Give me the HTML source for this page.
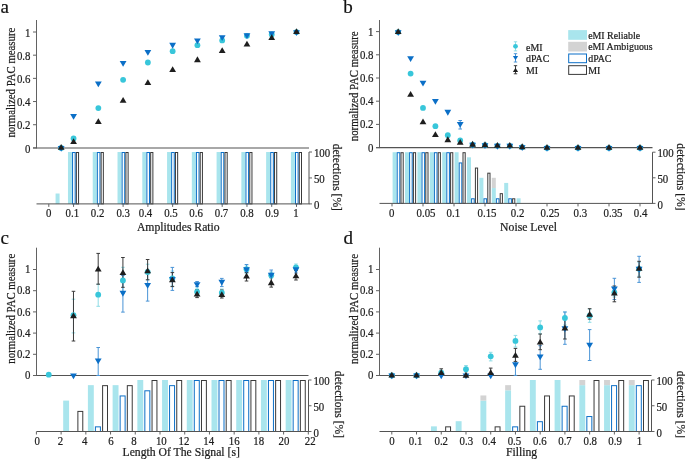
<!DOCTYPE html>
<html><head><meta charset="utf-8"><style>
html,body{margin:0;padding:0;background:#fff;}
svg{display:block;will-change:transform;}
text{stroke:#222;stroke-width:0.22px;paint-order:stroke;}
</style></head><body>
<svg width="685" height="459" viewBox="0 0 685 459">
<rect width="685" height="459" fill="#fff"/>
<line x1="36.50" y1="20.00" x2="36.50" y2="148.40" stroke="#626262" stroke-width="1"/>
<line x1="33.00" y1="147.90" x2="309.00" y2="147.90" stroke="#535353" stroke-width="1.05"/>
<line x1="33.00" y1="147.90" x2="36.50" y2="147.90" stroke="#626262" stroke-width="1"/>
<text x="0" y="0" font-size="11.8" text-anchor="end" fill="#1c1c1c" font-family='"Liberation Serif", serif' transform="translate(30.50 152.60) scale(0.92 1)">0</text>
<line x1="33.00" y1="124.72" x2="36.50" y2="124.72" stroke="#626262" stroke-width="1"/>
<text x="0" y="0" font-size="11.8" text-anchor="end" fill="#1c1c1c" font-family='"Liberation Serif", serif' transform="translate(30.50 129.42) scale(0.92 1)">0.2</text>
<line x1="33.00" y1="101.54" x2="36.50" y2="101.54" stroke="#626262" stroke-width="1"/>
<text x="0" y="0" font-size="11.8" text-anchor="end" fill="#1c1c1c" font-family='"Liberation Serif", serif' transform="translate(30.50 106.24) scale(0.92 1)">0.4</text>
<line x1="33.00" y1="78.36" x2="36.50" y2="78.36" stroke="#626262" stroke-width="1"/>
<text x="0" y="0" font-size="11.8" text-anchor="end" fill="#1c1c1c" font-family='"Liberation Serif", serif' transform="translate(30.50 83.06) scale(0.92 1)">0.6</text>
<line x1="33.00" y1="55.18" x2="36.50" y2="55.18" stroke="#626262" stroke-width="1"/>
<text x="0" y="0" font-size="11.8" text-anchor="end" fill="#1c1c1c" font-family='"Liberation Serif", serif' transform="translate(30.50 59.88) scale(0.92 1)">0.8</text>
<line x1="33.00" y1="32.00" x2="36.50" y2="32.00" stroke="#626262" stroke-width="1"/>
<text x="0" y="0" font-size="11.8" text-anchor="end" fill="#1c1c1c" font-family='"Liberation Serif", serif' transform="translate(30.50 36.70) scale(0.92 1)">1</text>
<text x="0" y="0" font-size="12.0" text-anchor="middle" fill="#1c1c1c" font-family='"Liberation Serif", serif' transform="translate(14.80 82.60) rotate(-90) scale(0.9 1)">normalized PAC measure</text>
<rect x="55.58" y="193.52" width="4.00" height="10.38" fill="#a9e5ed"/>
<rect x="67.97" y="152.00" width="4.00" height="51.90" fill="#a9e5ed"/>
<rect x="72.57" y="152.50" width="2.60" height="51.40" fill="white" stroke="#0b6fc7" stroke-width="1"/>
<rect x="76.37" y="152.50" width="2.20" height="51.40" fill="white" stroke="#3a3a3a" stroke-width="1"/>
<rect x="92.74" y="152.00" width="4.00" height="51.90" fill="#a9e5ed"/>
<rect x="97.34" y="152.50" width="2.60" height="51.40" fill="white" stroke="#0b6fc7" stroke-width="1"/>
<rect x="101.14" y="152.50" width="2.20" height="51.40" fill="white" stroke="#3a3a3a" stroke-width="1"/>
<rect x="117.51" y="152.00" width="4.00" height="51.90" fill="#a9e5ed"/>
<rect x="122.11" y="152.50" width="2.60" height="51.40" fill="white" stroke="#0b6fc7" stroke-width="1"/>
<rect x="125.91" y="152.50" width="2.20" height="51.40" fill="white" stroke="#3a3a3a" stroke-width="1"/>
<rect x="142.28" y="152.00" width="4.00" height="51.90" fill="#a9e5ed"/>
<rect x="146.88" y="152.50" width="2.60" height="51.40" fill="white" stroke="#0b6fc7" stroke-width="1"/>
<rect x="150.68" y="152.50" width="2.20" height="51.40" fill="white" stroke="#3a3a3a" stroke-width="1"/>
<rect x="167.05" y="152.00" width="4.00" height="51.90" fill="#a9e5ed"/>
<rect x="171.65" y="152.50" width="2.60" height="51.40" fill="white" stroke="#0b6fc7" stroke-width="1"/>
<rect x="175.45" y="152.50" width="2.20" height="51.40" fill="white" stroke="#3a3a3a" stroke-width="1"/>
<rect x="191.82" y="152.00" width="4.00" height="51.90" fill="#a9e5ed"/>
<rect x="196.42" y="152.50" width="2.60" height="51.40" fill="white" stroke="#0b6fc7" stroke-width="1"/>
<rect x="200.22" y="152.50" width="2.20" height="51.40" fill="white" stroke="#3a3a3a" stroke-width="1"/>
<rect x="216.59" y="152.00" width="4.00" height="51.90" fill="#a9e5ed"/>
<rect x="221.19" y="152.50" width="2.60" height="51.40" fill="white" stroke="#0b6fc7" stroke-width="1"/>
<rect x="224.99" y="152.50" width="2.20" height="51.40" fill="white" stroke="#3a3a3a" stroke-width="1"/>
<rect x="241.36" y="152.00" width="4.00" height="51.90" fill="#a9e5ed"/>
<rect x="245.96" y="152.50" width="2.60" height="51.40" fill="white" stroke="#0b6fc7" stroke-width="1"/>
<rect x="249.76" y="152.50" width="2.20" height="51.40" fill="white" stroke="#3a3a3a" stroke-width="1"/>
<rect x="266.13" y="152.00" width="4.00" height="51.90" fill="#a9e5ed"/>
<rect x="270.73" y="152.50" width="2.60" height="51.40" fill="white" stroke="#0b6fc7" stroke-width="1"/>
<rect x="274.53" y="152.50" width="2.20" height="51.40" fill="white" stroke="#3a3a3a" stroke-width="1"/>
<rect x="290.90" y="152.00" width="4.00" height="51.90" fill="#a9e5ed"/>
<rect x="295.50" y="152.50" width="2.60" height="51.40" fill="white" stroke="#0b6fc7" stroke-width="1"/>
<rect x="299.30" y="152.50" width="2.20" height="51.40" fill="white" stroke="#3a3a3a" stroke-width="1"/>
<line x1="36.50" y1="203.90" x2="309.50" y2="203.90" stroke="#535353" stroke-width="1.0"/>
<line x1="309.00" y1="152.00" x2="309.00" y2="203.90" stroke="#535353" stroke-width="1.0"/>
<line x1="309.00" y1="203.90" x2="312.00" y2="203.90" stroke="#626262" stroke-width="1"/>
<text x="0" y="0" font-size="11.8" text-anchor="start" fill="#1c1c1c" font-family='"Liberation Serif", serif' transform="translate(313.90 209.10) scale(0.92 1)">0</text>
<line x1="309.00" y1="177.95" x2="312.00" y2="177.95" stroke="#626262" stroke-width="1"/>
<text x="0" y="0" font-size="11.8" text-anchor="start" fill="#1c1c1c" font-family='"Liberation Serif", serif' transform="translate(313.90 183.15) scale(0.92 1)">50</text>
<line x1="309.00" y1="152.00" x2="312.00" y2="152.00" stroke="#626262" stroke-width="1"/>
<text x="0" y="0" font-size="11.8" text-anchor="start" fill="#1c1c1c" font-family='"Liberation Serif", serif' transform="translate(313.90 157.20) scale(0.92 1)">100</text>
<text x="333.30" y="177.30" font-size="11.6" text-anchor="middle" fill="#1c1c1c" font-family='"Liberation Serif", serif' transform="rotate(90 333.30 177.30)">detections [%]</text>
<line x1="48.80" y1="203.90" x2="48.80" y2="206.90" stroke="#626262" stroke-width="1"/>
<text x="0" y="0" font-size="11.8" text-anchor="middle" fill="#1c1c1c" font-family='"Liberation Serif", serif' transform="translate(48.80 217.20) scale(0.92 1)">0</text>
<line x1="73.57" y1="203.90" x2="73.57" y2="206.90" stroke="#626262" stroke-width="1"/>
<text x="0" y="0" font-size="11.8" text-anchor="middle" fill="#1c1c1c" font-family='"Liberation Serif", serif' transform="translate(72.37 217.20) scale(0.92 1)">0.1</text>
<line x1="98.34" y1="203.90" x2="98.34" y2="206.90" stroke="#626262" stroke-width="1"/>
<text x="0" y="0" font-size="11.8" text-anchor="middle" fill="#1c1c1c" font-family='"Liberation Serif", serif' transform="translate(97.64 217.20) scale(0.92 1)">0.2</text>
<line x1="123.11" y1="203.90" x2="123.11" y2="206.90" stroke="#626262" stroke-width="1"/>
<text x="0" y="0" font-size="11.8" text-anchor="middle" fill="#1c1c1c" font-family='"Liberation Serif", serif' transform="translate(123.21 217.20) scale(0.92 1)">0.3</text>
<line x1="147.88" y1="203.90" x2="147.88" y2="206.90" stroke="#626262" stroke-width="1"/>
<text x="0" y="0" font-size="11.8" text-anchor="middle" fill="#1c1c1c" font-family='"Liberation Serif", serif' transform="translate(145.48 217.20) scale(0.92 1)">0.4</text>
<line x1="172.65" y1="203.90" x2="172.65" y2="206.90" stroke="#626262" stroke-width="1"/>
<text x="0" y="0" font-size="11.8" text-anchor="middle" fill="#1c1c1c" font-family='"Liberation Serif", serif' transform="translate(170.95 217.20) scale(0.92 1)">0.5</text>
<line x1="197.42" y1="203.90" x2="197.42" y2="206.90" stroke="#626262" stroke-width="1"/>
<text x="0" y="0" font-size="11.8" text-anchor="middle" fill="#1c1c1c" font-family='"Liberation Serif", serif' transform="translate(196.02 217.20) scale(0.92 1)">0.6</text>
<line x1="222.19" y1="203.90" x2="222.19" y2="206.90" stroke="#626262" stroke-width="1"/>
<text x="0" y="0" font-size="11.8" text-anchor="middle" fill="#1c1c1c" font-family='"Liberation Serif", serif' transform="translate(221.49 217.20) scale(0.92 1)">0.7</text>
<line x1="246.96" y1="203.90" x2="246.96" y2="206.90" stroke="#626262" stroke-width="1"/>
<text x="0" y="0" font-size="11.8" text-anchor="middle" fill="#1c1c1c" font-family='"Liberation Serif", serif' transform="translate(246.96 217.20) scale(0.92 1)">0.8</text>
<line x1="271.73" y1="203.90" x2="271.73" y2="206.90" stroke="#626262" stroke-width="1"/>
<text x="0" y="0" font-size="11.8" text-anchor="middle" fill="#1c1c1c" font-family='"Liberation Serif", serif' transform="translate(272.03 217.20) scale(0.92 1)">0.9</text>
<line x1="296.50" y1="203.90" x2="296.50" y2="206.90" stroke="#626262" stroke-width="1"/>
<text x="0" y="0" font-size="11.8" text-anchor="middle" fill="#1c1c1c" font-family='"Liberation Serif", serif' transform="translate(295.90 217.20) scale(0.92 1)">1</text>
<text x="178.30" y="230.50" font-size="11.7" text-anchor="middle" fill="#1c1c1c" font-family='"Liberation Serif", serif'>Amplitudes Ratio</text>
<circle cx="61.18" cy="147.90" r="2.9" fill="#38c6da"/>
<circle cx="73.57" cy="138.40" r="2.9" fill="#38c6da"/>
<circle cx="98.34" cy="108.10" r="2.9" fill="#38c6da"/>
<circle cx="123.11" cy="79.80" r="2.9" fill="#38c6da"/>
<circle cx="147.88" cy="62.50" r="2.9" fill="#38c6da"/>
<circle cx="172.65" cy="51.20" r="2.9" fill="#38c6da"/>
<circle cx="197.42" cy="45.20" r="2.9" fill="#38c6da"/>
<circle cx="222.19" cy="40.40" r="2.9" fill="#38c6da"/>
<circle cx="246.96" cy="35.80" r="2.9" fill="#38c6da"/>
<circle cx="271.73" cy="34.50" r="2.9" fill="#38c6da"/>
<circle cx="296.50" cy="32.10" r="2.9" fill="#38c6da"/>
<path d="M57.78 145.97L64.58 145.97L61.18 151.77Z" fill="#0b6fc7"/>
<path d="M70.17 113.97L76.97 113.97L73.57 119.77Z" fill="#0b6fc7"/>
<path d="M94.94 81.57L101.74 81.57L98.34 87.37Z" fill="#0b6fc7"/>
<path d="M119.71 60.97L126.51 60.97L123.11 66.77Z" fill="#0b6fc7"/>
<path d="M144.48 49.97L151.28 49.97L147.88 55.77Z" fill="#0b6fc7"/>
<path d="M169.25 42.87L176.05 42.87L172.65 48.67Z" fill="#0b6fc7"/>
<path d="M194.02 38.57L200.82 38.57L197.42 44.37Z" fill="#0b6fc7"/>
<path d="M218.79 35.27L225.59 35.27L222.19 41.07Z" fill="#0b6fc7"/>
<path d="M243.56 33.27L250.36 33.27L246.96 39.07Z" fill="#0b6fc7"/>
<path d="M268.33 31.27L275.13 31.27L271.73 37.07Z" fill="#0b6fc7"/>
<path d="M293.10 30.17L299.90 30.17L296.50 35.97Z" fill="#0b6fc7"/>
<path d="M57.78 149.83L64.58 149.83L61.18 144.03Z" fill="#1e1e1e"/>
<path d="M70.17 143.93L76.97 143.93L73.57 138.13Z" fill="#1e1e1e"/>
<path d="M94.94 123.93L101.74 123.93L98.34 118.13Z" fill="#1e1e1e"/>
<path d="M119.71 102.83L126.51 102.83L123.11 97.03Z" fill="#1e1e1e"/>
<path d="M144.48 84.93L151.28 84.93L147.88 79.13Z" fill="#1e1e1e"/>
<path d="M169.25 72.03L176.05 72.03L172.65 66.23Z" fill="#1e1e1e"/>
<path d="M194.02 62.13L200.82 62.13L197.42 56.33Z" fill="#1e1e1e"/>
<path d="M218.79 52.93L225.59 52.93L222.19 47.13Z" fill="#1e1e1e"/>
<path d="M243.56 46.53L250.36 46.53L246.96 40.73Z" fill="#1e1e1e"/>
<path d="M268.33 40.03L275.13 40.03L271.73 34.23Z" fill="#1e1e1e"/>
<path d="M293.10 34.03L299.90 34.03L296.50 28.23Z" fill="#1e1e1e"/>
<text x="0.6" y="13.3" font-size="19" fill="#111" font-family='"Liberation Serif", serif'>a</text>
<line x1="379.50" y1="20.00" x2="379.50" y2="148.10" stroke="#626262" stroke-width="1"/>
<line x1="376.00" y1="147.60" x2="652.50" y2="147.60" stroke="#535353" stroke-width="1.05"/>
<line x1="376.00" y1="147.60" x2="379.50" y2="147.60" stroke="#626262" stroke-width="1"/>
<text x="0" y="0" font-size="11.8" text-anchor="end" fill="#1c1c1c" font-family='"Liberation Serif", serif' transform="translate(373.50 151.60) scale(0.92 1)">0</text>
<line x1="376.00" y1="124.40" x2="379.50" y2="124.40" stroke="#626262" stroke-width="1"/>
<text x="0" y="0" font-size="11.8" text-anchor="end" fill="#1c1c1c" font-family='"Liberation Serif", serif' transform="translate(373.50 128.40) scale(0.92 1)">0.2</text>
<line x1="376.00" y1="101.20" x2="379.50" y2="101.20" stroke="#626262" stroke-width="1"/>
<text x="0" y="0" font-size="11.8" text-anchor="end" fill="#1c1c1c" font-family='"Liberation Serif", serif' transform="translate(373.50 105.20) scale(0.92 1)">0.4</text>
<line x1="376.00" y1="78.00" x2="379.50" y2="78.00" stroke="#626262" stroke-width="1"/>
<text x="0" y="0" font-size="11.8" text-anchor="end" fill="#1c1c1c" font-family='"Liberation Serif", serif' transform="translate(373.50 82.00) scale(0.92 1)">0.6</text>
<line x1="376.00" y1="54.80" x2="379.50" y2="54.80" stroke="#626262" stroke-width="1"/>
<text x="0" y="0" font-size="11.8" text-anchor="end" fill="#1c1c1c" font-family='"Liberation Serif", serif' transform="translate(373.50 58.80) scale(0.92 1)">0.8</text>
<line x1="376.00" y1="31.60" x2="379.50" y2="31.60" stroke="#626262" stroke-width="1"/>
<text x="0" y="0" font-size="11.8" text-anchor="end" fill="#1c1c1c" font-family='"Liberation Serif", serif' transform="translate(373.50 35.60) scale(0.92 1)">1</text>
<text x="0" y="0" font-size="12.0" text-anchor="middle" fill="#1c1c1c" font-family='"Liberation Serif", serif' transform="translate(357.80 86.30) rotate(-90) scale(0.9 1)">normalized PAC measure</text>
<rect x="392.60" y="152.20" width="4.00" height="51.20" fill="#a9e5ed"/>
<rect x="397.20" y="152.70" width="2.60" height="50.70" fill="white" stroke="#0b6fc7" stroke-width="1"/>
<rect x="401.00" y="152.70" width="2.20" height="50.70" fill="white" stroke="#3a3a3a" stroke-width="1"/>
<rect x="405.00" y="152.20" width="4.00" height="51.20" fill="#a9e5ed"/>
<rect x="409.60" y="152.70" width="2.60" height="50.70" fill="white" stroke="#0b6fc7" stroke-width="1"/>
<rect x="413.40" y="152.70" width="2.20" height="50.70" fill="white" stroke="#3a3a3a" stroke-width="1"/>
<rect x="417.40" y="152.20" width="4.00" height="51.20" fill="#a9e5ed"/>
<rect x="422.00" y="152.70" width="2.60" height="50.70" fill="white" stroke="#0b6fc7" stroke-width="1"/>
<rect x="425.80" y="152.70" width="2.20" height="50.70" fill="white" stroke="#3a3a3a" stroke-width="1"/>
<rect x="429.80" y="152.20" width="4.00" height="51.20" fill="#a9e5ed"/>
<rect x="434.40" y="152.70" width="2.60" height="50.70" fill="white" stroke="#0b6fc7" stroke-width="1"/>
<rect x="438.20" y="152.70" width="2.20" height="50.70" fill="white" stroke="#3a3a3a" stroke-width="1"/>
<rect x="442.20" y="152.20" width="4.00" height="51.20" fill="#a9e5ed"/>
<rect x="446.80" y="152.70" width="2.60" height="50.70" fill="white" stroke="#0b6fc7" stroke-width="1"/>
<rect x="450.60" y="152.70" width="2.20" height="50.70" fill="white" stroke="#3a3a3a" stroke-width="1"/>
<rect x="454.60" y="152.20" width="4.00" height="51.20" fill="#a9e5ed"/>
<rect x="459.20" y="162.94" width="2.60" height="40.46" fill="white" stroke="#0b6fc7" stroke-width="1"/>
<rect x="463.00" y="152.70" width="2.20" height="50.70" fill="white" stroke="#3a3a3a" stroke-width="1"/>
<rect x="467.00" y="157.32" width="4.00" height="46.08" fill="#a9e5ed"/>
<rect x="471.60" y="198.78" width="2.60" height="4.62" fill="white" stroke="#0b6fc7" stroke-width="1"/>
<rect x="475.40" y="168.06" width="2.20" height="35.34" fill="white" stroke="#3a3a3a" stroke-width="1"/>
<rect x="479.40" y="177.80" width="4.00" height="25.60" fill="#a9e5ed"/>
<rect x="484.00" y="198.78" width="2.60" height="4.62" fill="white" stroke="#0b6fc7" stroke-width="1"/>
<rect x="487.80" y="173.18" width="2.20" height="30.22" fill="white" stroke="#3a3a3a" stroke-width="1"/>
<rect x="491.80" y="188.04" width="4.00" height="15.36" fill="#a9e5ed"/>
<rect x="491.80" y="177.80" width="4.00" height="10.24" fill="#d3d3d3"/>
<rect x="496.40" y="198.78" width="2.60" height="4.62" fill="white" stroke="#0b6fc7" stroke-width="1"/>
<rect x="500.20" y="193.66" width="2.20" height="9.74" fill="white" stroke="#3a3a3a" stroke-width="1"/>
<rect x="504.20" y="182.92" width="4.00" height="20.48" fill="#a9e5ed"/>
<rect x="508.80" y="198.78" width="2.60" height="4.62" fill="white" stroke="#0b6fc7" stroke-width="1"/>
<rect x="512.60" y="198.78" width="2.20" height="4.62" fill="white" stroke="#3a3a3a" stroke-width="1"/>
<rect x="516.60" y="198.28" width="4.00" height="5.12" fill="#a9e5ed"/>
<line x1="379.50" y1="203.40" x2="653.00" y2="203.40" stroke="#535353" stroke-width="1.0"/>
<line x1="652.50" y1="152.20" x2="652.50" y2="203.40" stroke="#535353" stroke-width="1.0"/>
<line x1="652.50" y1="203.40" x2="655.50" y2="203.40" stroke="#626262" stroke-width="1"/>
<text x="0" y="0" font-size="11.8" text-anchor="start" fill="#1c1c1c" font-family='"Liberation Serif", serif' transform="translate(657.40 208.60) scale(0.92 1)">0</text>
<line x1="652.50" y1="177.80" x2="655.50" y2="177.80" stroke="#626262" stroke-width="1"/>
<text x="0" y="0" font-size="11.8" text-anchor="start" fill="#1c1c1c" font-family='"Liberation Serif", serif' transform="translate(657.40 183.00) scale(0.92 1)">50</text>
<line x1="652.50" y1="152.20" x2="655.50" y2="152.20" stroke="#626262" stroke-width="1"/>
<text x="0" y="0" font-size="11.8" text-anchor="start" fill="#1c1c1c" font-family='"Liberation Serif", serif' transform="translate(657.40 157.40) scale(0.92 1)">100</text>
<text x="677.00" y="177.00" font-size="11.6" text-anchor="middle" fill="#1c1c1c" font-family='"Liberation Serif", serif' transform="rotate(90 677.00 177.00)">detections [%]</text>
<line x1="392.00" y1="203.40" x2="392.00" y2="206.40" stroke="#626262" stroke-width="1"/>
<text x="0" y="0" font-size="11.8" text-anchor="middle" fill="#1c1c1c" font-family='"Liberation Serif", serif' transform="translate(391.60 216.70) scale(0.92 1)">0</text>
<line x1="423.00" y1="203.40" x2="423.00" y2="206.40" stroke="#626262" stroke-width="1"/>
<text x="0" y="0" font-size="11.8" text-anchor="middle" fill="#1c1c1c" font-family='"Liberation Serif", serif' transform="translate(426.00 216.70) scale(0.92 1)">0.05</text>
<line x1="454.00" y1="203.40" x2="454.00" y2="206.40" stroke="#626262" stroke-width="1"/>
<text x="0" y="0" font-size="11.8" text-anchor="middle" fill="#1c1c1c" font-family='"Liberation Serif", serif' transform="translate(453.40 216.70) scale(0.92 1)">0.1</text>
<line x1="485.00" y1="203.40" x2="485.00" y2="206.40" stroke="#626262" stroke-width="1"/>
<text x="0" y="0" font-size="11.8" text-anchor="middle" fill="#1c1c1c" font-family='"Liberation Serif", serif' transform="translate(487.00 216.70) scale(0.92 1)">0.15</text>
<line x1="516.00" y1="203.40" x2="516.00" y2="206.40" stroke="#626262" stroke-width="1"/>
<text x="0" y="0" font-size="11.8" text-anchor="middle" fill="#1c1c1c" font-family='"Liberation Serif", serif' transform="translate(517.60 216.70) scale(0.92 1)">0.2</text>
<line x1="547.00" y1="203.40" x2="547.00" y2="206.40" stroke="#626262" stroke-width="1"/>
<text x="0" y="0" font-size="11.8" text-anchor="middle" fill="#1c1c1c" font-family='"Liberation Serif", serif' transform="translate(550.00 216.70) scale(0.92 1)">0.25</text>
<line x1="578.00" y1="203.40" x2="578.00" y2="206.40" stroke="#626262" stroke-width="1"/>
<text x="0" y="0" font-size="11.8" text-anchor="middle" fill="#1c1c1c" font-family='"Liberation Serif", serif' transform="translate(580.40 216.70) scale(0.92 1)">0.3</text>
<line x1="609.00" y1="203.40" x2="609.00" y2="206.40" stroke="#626262" stroke-width="1"/>
<text x="0" y="0" font-size="11.8" text-anchor="middle" fill="#1c1c1c" font-family='"Liberation Serif", serif' transform="translate(613.00 216.70) scale(0.92 1)">0.35</text>
<line x1="640.00" y1="203.40" x2="640.00" y2="206.40" stroke="#626262" stroke-width="1"/>
<text x="0" y="0" font-size="11.8" text-anchor="middle" fill="#1c1c1c" font-family='"Liberation Serif", serif' transform="translate(640.60 216.70) scale(0.92 1)">0.4</text>
<text x="528.50" y="230.60" font-size="11.7" text-anchor="middle" fill="#1c1c1c" font-family='"Liberation Serif", serif'>Noise Level</text>
<line x1="460.20" y1="120.50" x2="460.20" y2="129.00" stroke="#4a94d6" stroke-width="1"/>
<line x1="458.40" y1="120.50" x2="462.00" y2="120.50" stroke="#4a94d6" stroke-width="1"/>
<line x1="458.40" y1="129.00" x2="462.00" y2="129.00" stroke="#4a94d6" stroke-width="1"/>
<circle cx="398.20" cy="32.10" r="2.9" fill="#38c6da"/>
<circle cx="410.60" cy="73.60" r="2.9" fill="#38c6da"/>
<circle cx="423.00" cy="107.90" r="2.9" fill="#38c6da"/>
<circle cx="435.40" cy="126.20" r="2.9" fill="#38c6da"/>
<circle cx="447.80" cy="135.20" r="2.9" fill="#38c6da"/>
<circle cx="460.20" cy="140.50" r="2.9" fill="#38c6da"/>
<circle cx="472.60" cy="144.70" r="2.9" fill="#38c6da"/>
<circle cx="485.00" cy="145.20" r="2.9" fill="#38c6da"/>
<circle cx="497.40" cy="145.80" r="2.9" fill="#38c6da"/>
<circle cx="509.80" cy="145.80" r="2.9" fill="#38c6da"/>
<circle cx="522.20" cy="147.20" r="2.9" fill="#38c6da"/>
<circle cx="547.00" cy="147.90" r="2.9" fill="#38c6da"/>
<circle cx="578.00" cy="147.90" r="2.9" fill="#38c6da"/>
<circle cx="609.00" cy="147.90" r="2.9" fill="#38c6da"/>
<circle cx="640.00" cy="147.90" r="2.9" fill="#38c6da"/>
<path d="M394.80 30.17L401.60 30.17L398.20 35.97Z" fill="#0b6fc7"/>
<path d="M407.20 56.27L414.00 56.27L410.60 62.07Z" fill="#0b6fc7"/>
<path d="M419.60 80.77L426.40 80.77L423.00 86.57Z" fill="#0b6fc7"/>
<path d="M432.00 99.07L438.80 99.07L435.40 104.87Z" fill="#0b6fc7"/>
<path d="M444.40 109.87L451.20 109.87L447.80 115.67Z" fill="#0b6fc7"/>
<path d="M456.80 122.07L463.60 122.07L460.20 127.87Z" fill="#0b6fc7"/>
<path d="M469.20 142.77L476.00 142.77L472.60 148.57Z" fill="#0b6fc7"/>
<path d="M481.60 143.27L488.40 143.27L485.00 149.07Z" fill="#0b6fc7"/>
<path d="M494.00 143.87L500.80 143.87L497.40 149.67Z" fill="#0b6fc7"/>
<path d="M506.40 143.87L513.20 143.87L509.80 149.67Z" fill="#0b6fc7"/>
<path d="M518.80 145.27L525.60 145.27L522.20 151.07Z" fill="#0b6fc7"/>
<path d="M543.60 145.97L550.40 145.97L547.00 151.77Z" fill="#0b6fc7"/>
<path d="M574.60 145.97L581.40 145.97L578.00 151.77Z" fill="#0b6fc7"/>
<path d="M605.60 145.97L612.40 145.97L609.00 151.77Z" fill="#0b6fc7"/>
<path d="M636.60 145.97L643.40 145.97L640.00 151.77Z" fill="#0b6fc7"/>
<path d="M394.80 34.03L401.60 34.03L398.20 28.23Z" fill="#1e1e1e"/>
<path d="M407.20 96.83L414.00 96.83L410.60 91.03Z" fill="#1e1e1e"/>
<path d="M419.60 124.23L426.40 124.23L423.00 118.43Z" fill="#1e1e1e"/>
<path d="M432.00 136.93L438.80 136.93L435.40 131.13Z" fill="#1e1e1e"/>
<path d="M444.40 142.13L451.20 142.13L447.80 136.33Z" fill="#1e1e1e"/>
<path d="M456.80 144.73L463.60 144.73L460.20 138.93Z" fill="#1e1e1e"/>
<path d="M469.20 146.63L476.00 146.63L472.60 140.83Z" fill="#1e1e1e"/>
<path d="M481.60 147.13L488.40 147.13L485.00 141.33Z" fill="#1e1e1e"/>
<path d="M494.00 147.73L500.80 147.73L497.40 141.93Z" fill="#1e1e1e"/>
<path d="M506.40 147.73L513.20 147.73L509.80 141.93Z" fill="#1e1e1e"/>
<path d="M518.80 149.13L525.60 149.13L522.20 143.33Z" fill="#1e1e1e"/>
<path d="M543.60 149.83L550.40 149.83L547.00 144.03Z" fill="#1e1e1e"/>
<path d="M574.60 149.83L581.40 149.83L578.00 144.03Z" fill="#1e1e1e"/>
<path d="M605.60 149.83L612.40 149.83L609.00 144.03Z" fill="#1e1e1e"/>
<path d="M636.60 149.83L643.40 149.83L640.00 144.03Z" fill="#1e1e1e"/>
<text x="343.3" y="13.4" font-size="19" fill="#111" font-family='"Liberation Serif", serif'>b</text>
<line x1="36.50" y1="247.70" x2="36.50" y2="376.00" stroke="#626262" stroke-width="1"/>
<line x1="33.00" y1="375.50" x2="308.50" y2="375.50" stroke="#535353" stroke-width="1.05"/>
<line x1="33.00" y1="375.50" x2="36.50" y2="375.50" stroke="#626262" stroke-width="1"/>
<text x="0" y="0" font-size="11.8" text-anchor="end" fill="#1c1c1c" font-family='"Liberation Serif", serif' transform="translate(30.50 379.20) scale(0.92 1)">0</text>
<line x1="33.00" y1="354.30" x2="36.50" y2="354.30" stroke="#626262" stroke-width="1"/>
<text x="0" y="0" font-size="11.8" text-anchor="end" fill="#1c1c1c" font-family='"Liberation Serif", serif' transform="translate(30.50 358.00) scale(0.92 1)">0.2</text>
<line x1="33.00" y1="333.10" x2="36.50" y2="333.10" stroke="#626262" stroke-width="1"/>
<text x="0" y="0" font-size="11.8" text-anchor="end" fill="#1c1c1c" font-family='"Liberation Serif", serif' transform="translate(30.50 336.80) scale(0.92 1)">0.4</text>
<line x1="33.00" y1="311.90" x2="36.50" y2="311.90" stroke="#626262" stroke-width="1"/>
<text x="0" y="0" font-size="11.8" text-anchor="end" fill="#1c1c1c" font-family='"Liberation Serif", serif' transform="translate(30.50 315.60) scale(0.92 1)">0.6</text>
<line x1="33.00" y1="290.70" x2="36.50" y2="290.70" stroke="#626262" stroke-width="1"/>
<text x="0" y="0" font-size="11.8" text-anchor="end" fill="#1c1c1c" font-family='"Liberation Serif", serif' transform="translate(30.50 294.40) scale(0.92 1)">0.8</text>
<line x1="33.00" y1="269.50" x2="36.50" y2="269.50" stroke="#626262" stroke-width="1"/>
<text x="0" y="0" font-size="11.8" text-anchor="end" fill="#1c1c1c" font-family='"Liberation Serif", serif' transform="translate(30.50 273.20) scale(0.92 1)">1</text>
<text x="0" y="0" font-size="12.0" text-anchor="middle" fill="#1c1c1c" font-family='"Liberation Serif", serif' transform="translate(14.80 308.70) rotate(-90) scale(0.9 1)">normalized PAC measure</text>
<rect x="63.18" y="400.60" width="5.90" height="30.90" fill="#a9e5ed"/>
<rect x="77.88" y="411.40" width="4.90" height="20.10" fill="white" stroke="#3a3a3a" stroke-width="1"/>
<rect x="87.90" y="385.15" width="5.90" height="46.35" fill="#a9e5ed"/>
<rect x="95.40" y="426.85" width="5.00" height="4.65" fill="white" stroke="#0b6fc7" stroke-width="1"/>
<rect x="102.60" y="385.65" width="4.90" height="45.85" fill="white" stroke="#3a3a3a" stroke-width="1"/>
<rect x="112.62" y="385.15" width="5.90" height="46.35" fill="#a9e5ed"/>
<rect x="120.12" y="395.95" width="5.00" height="35.55" fill="white" stroke="#0b6fc7" stroke-width="1"/>
<rect x="127.32" y="385.65" width="4.90" height="45.85" fill="white" stroke="#3a3a3a" stroke-width="1"/>
<rect x="137.34" y="380.00" width="5.90" height="51.50" fill="#a9e5ed"/>
<rect x="144.84" y="390.80" width="5.00" height="40.70" fill="white" stroke="#0b6fc7" stroke-width="1"/>
<rect x="152.04" y="380.50" width="4.90" height="51.00" fill="white" stroke="#3a3a3a" stroke-width="1"/>
<rect x="162.06" y="380.00" width="5.90" height="51.50" fill="#a9e5ed"/>
<rect x="169.56" y="385.65" width="5.00" height="45.85" fill="white" stroke="#0b6fc7" stroke-width="1"/>
<rect x="176.76" y="380.50" width="4.90" height="51.00" fill="white" stroke="#3a3a3a" stroke-width="1"/>
<rect x="186.78" y="380.00" width="5.90" height="51.50" fill="#a9e5ed"/>
<rect x="194.28" y="380.50" width="5.00" height="51.00" fill="white" stroke="#0b6fc7" stroke-width="1"/>
<rect x="201.48" y="380.50" width="4.90" height="51.00" fill="white" stroke="#3a3a3a" stroke-width="1"/>
<rect x="211.50" y="380.00" width="5.90" height="51.50" fill="#a9e5ed"/>
<rect x="219.00" y="380.50" width="5.00" height="51.00" fill="white" stroke="#0b6fc7" stroke-width="1"/>
<rect x="226.20" y="380.50" width="4.90" height="51.00" fill="white" stroke="#3a3a3a" stroke-width="1"/>
<rect x="236.22" y="380.00" width="5.90" height="51.50" fill="#a9e5ed"/>
<rect x="243.72" y="380.50" width="5.00" height="51.00" fill="white" stroke="#0b6fc7" stroke-width="1"/>
<rect x="250.92" y="380.50" width="4.90" height="51.00" fill="white" stroke="#3a3a3a" stroke-width="1"/>
<rect x="260.94" y="380.00" width="5.90" height="51.50" fill="#a9e5ed"/>
<rect x="268.44" y="380.50" width="5.00" height="51.00" fill="white" stroke="#0b6fc7" stroke-width="1"/>
<rect x="275.64" y="380.50" width="4.90" height="51.00" fill="white" stroke="#3a3a3a" stroke-width="1"/>
<rect x="285.66" y="380.00" width="5.90" height="51.50" fill="#a9e5ed"/>
<rect x="293.16" y="380.50" width="5.00" height="51.00" fill="white" stroke="#0b6fc7" stroke-width="1"/>
<rect x="300.36" y="380.50" width="4.90" height="51.00" fill="white" stroke="#3a3a3a" stroke-width="1"/>
<line x1="36.50" y1="431.50" x2="309.00" y2="431.50" stroke="#535353" stroke-width="1.0"/>
<line x1="308.50" y1="380.00" x2="308.50" y2="431.50" stroke="#535353" stroke-width="1.0"/>
<line x1="308.50" y1="431.50" x2="311.50" y2="431.50" stroke="#626262" stroke-width="1"/>
<text x="0" y="0" font-size="11.8" text-anchor="start" fill="#1c1c1c" font-family='"Liberation Serif", serif' transform="translate(313.40 436.70) scale(0.92 1)">0</text>
<line x1="308.50" y1="405.75" x2="311.50" y2="405.75" stroke="#626262" stroke-width="1"/>
<text x="0" y="0" font-size="11.8" text-anchor="start" fill="#1c1c1c" font-family='"Liberation Serif", serif' transform="translate(313.40 410.95) scale(0.92 1)">50</text>
<line x1="308.50" y1="380.00" x2="311.50" y2="380.00" stroke="#626262" stroke-width="1"/>
<text x="0" y="0" font-size="11.8" text-anchor="start" fill="#1c1c1c" font-family='"Liberation Serif", serif' transform="translate(313.40 385.20) scale(0.92 1)">100</text>
<text x="335.00" y="404.50" font-size="11.6" text-anchor="middle" fill="#1c1c1c" font-family='"Liberation Serif", serif' transform="rotate(90 335.00 404.50)">detections [%]</text>
<line x1="36.40" y1="431.50" x2="36.40" y2="434.50" stroke="#626262" stroke-width="1"/>
<text x="0" y="0" font-size="11.8" text-anchor="middle" fill="#1c1c1c" font-family='"Liberation Serif", serif' transform="translate(37.10 444.80) scale(0.92 1)">0</text>
<line x1="61.12" y1="431.50" x2="61.12" y2="434.50" stroke="#626262" stroke-width="1"/>
<text x="0" y="0" font-size="11.8" text-anchor="middle" fill="#1c1c1c" font-family='"Liberation Serif", serif' transform="translate(60.52 444.80) scale(0.92 1)">2</text>
<line x1="85.84" y1="431.50" x2="85.84" y2="434.50" stroke="#626262" stroke-width="1"/>
<text x="0" y="0" font-size="11.8" text-anchor="middle" fill="#1c1c1c" font-family='"Liberation Serif", serif' transform="translate(84.64 444.80) scale(0.92 1)">4</text>
<line x1="110.56" y1="431.50" x2="110.56" y2="434.50" stroke="#626262" stroke-width="1"/>
<text x="0" y="0" font-size="11.8" text-anchor="middle" fill="#1c1c1c" font-family='"Liberation Serif", serif' transform="translate(110.86 444.80) scale(0.92 1)">6</text>
<line x1="135.28" y1="431.50" x2="135.28" y2="434.50" stroke="#626262" stroke-width="1"/>
<text x="0" y="0" font-size="11.8" text-anchor="middle" fill="#1c1c1c" font-family='"Liberation Serif", serif' transform="translate(133.98 444.80) scale(0.92 1)">8</text>
<line x1="160.00" y1="431.50" x2="160.00" y2="434.50" stroke="#626262" stroke-width="1"/>
<text x="0" y="0" font-size="11.8" text-anchor="middle" fill="#1c1c1c" font-family='"Liberation Serif", serif' transform="translate(161.30 444.80) scale(0.92 1)">10</text>
<line x1="184.72" y1="431.50" x2="184.72" y2="434.50" stroke="#626262" stroke-width="1"/>
<text x="0" y="0" font-size="11.8" text-anchor="middle" fill="#1c1c1c" font-family='"Liberation Serif", serif' transform="translate(184.02 444.80) scale(0.92 1)">12</text>
<line x1="209.44" y1="431.50" x2="209.44" y2="434.50" stroke="#626262" stroke-width="1"/>
<text x="0" y="0" font-size="11.8" text-anchor="middle" fill="#1c1c1c" font-family='"Liberation Serif", serif' transform="translate(208.64 444.80) scale(0.92 1)">14</text>
<line x1="234.16" y1="431.50" x2="234.16" y2="434.50" stroke="#626262" stroke-width="1"/>
<text x="0" y="0" font-size="11.8" text-anchor="middle" fill="#1c1c1c" font-family='"Liberation Serif", serif' transform="translate(234.26 444.80) scale(0.92 1)">16</text>
<line x1="258.88" y1="431.50" x2="258.88" y2="434.50" stroke="#626262" stroke-width="1"/>
<text x="0" y="0" font-size="11.8" text-anchor="middle" fill="#1c1c1c" font-family='"Liberation Serif", serif' transform="translate(258.68 444.80) scale(0.92 1)">18</text>
<line x1="283.60" y1="431.50" x2="283.60" y2="434.50" stroke="#626262" stroke-width="1"/>
<text x="0" y="0" font-size="11.8" text-anchor="middle" fill="#1c1c1c" font-family='"Liberation Serif", serif' transform="translate(284.00 444.80) scale(0.92 1)">20</text>
<line x1="308.32" y1="431.50" x2="308.32" y2="434.50" stroke="#626262" stroke-width="1"/>
<text x="0" y="0" font-size="11.8" text-anchor="middle" fill="#1c1c1c" font-family='"Liberation Serif", serif' transform="translate(310.22 444.80) scale(0.92 1)">22</text>
<text x="181.20" y="456.10" font-size="11.7" text-anchor="middle" fill="#1c1c1c" font-family='"Liberation Serif", serif'>Length Of The Signal [s]</text>
<line x1="73.48" y1="299.20" x2="73.48" y2="332.90" stroke="#8fdce6" stroke-width="1"/>
<line x1="71.68" y1="299.20" x2="75.28" y2="299.20" stroke="#8fdce6" stroke-width="1"/>
<line x1="71.68" y1="332.90" x2="75.28" y2="332.90" stroke="#8fdce6" stroke-width="1"/>
<line x1="73.48" y1="291.30" x2="73.48" y2="341.00" stroke="#3a3a3a" stroke-width="1"/>
<line x1="71.68" y1="291.30" x2="75.28" y2="291.30" stroke="#3a3a3a" stroke-width="1"/>
<line x1="71.68" y1="341.00" x2="75.28" y2="341.00" stroke="#3a3a3a" stroke-width="1"/>
<line x1="98.20" y1="284.20" x2="98.20" y2="306.30" stroke="#8fdce6" stroke-width="1"/>
<line x1="96.40" y1="284.20" x2="100.00" y2="284.20" stroke="#8fdce6" stroke-width="1"/>
<line x1="96.40" y1="306.30" x2="100.00" y2="306.30" stroke="#8fdce6" stroke-width="1"/>
<line x1="98.20" y1="347.50" x2="98.20" y2="375.50" stroke="#4a94d6" stroke-width="1"/>
<line x1="96.40" y1="347.50" x2="100.00" y2="347.50" stroke="#4a94d6" stroke-width="1"/>
<line x1="96.40" y1="375.50" x2="100.00" y2="375.50" stroke="#4a94d6" stroke-width="1"/>
<line x1="98.20" y1="253.40" x2="98.20" y2="284.20" stroke="#3a3a3a" stroke-width="1"/>
<line x1="96.40" y1="253.40" x2="100.00" y2="253.40" stroke="#3a3a3a" stroke-width="1"/>
<line x1="96.40" y1="284.20" x2="100.00" y2="284.20" stroke="#3a3a3a" stroke-width="1"/>
<line x1="122.92" y1="267.30" x2="122.92" y2="293.50" stroke="#8fdce6" stroke-width="1"/>
<line x1="121.12" y1="267.30" x2="124.72" y2="267.30" stroke="#8fdce6" stroke-width="1"/>
<line x1="121.12" y1="293.50" x2="124.72" y2="293.50" stroke="#8fdce6" stroke-width="1"/>
<line x1="122.92" y1="275.50" x2="122.92" y2="312.10" stroke="#4a94d6" stroke-width="1"/>
<line x1="121.12" y1="275.50" x2="124.72" y2="275.50" stroke="#4a94d6" stroke-width="1"/>
<line x1="121.12" y1="312.10" x2="124.72" y2="312.10" stroke="#4a94d6" stroke-width="1"/>
<line x1="122.92" y1="257.50" x2="122.92" y2="287.30" stroke="#3a3a3a" stroke-width="1"/>
<line x1="121.12" y1="257.50" x2="124.72" y2="257.50" stroke="#3a3a3a" stroke-width="1"/>
<line x1="121.12" y1="287.30" x2="124.72" y2="287.30" stroke="#3a3a3a" stroke-width="1"/>
<line x1="147.64" y1="264.20" x2="147.64" y2="279.80" stroke="#8fdce6" stroke-width="1"/>
<line x1="145.84" y1="264.20" x2="149.44" y2="264.20" stroke="#8fdce6" stroke-width="1"/>
<line x1="145.84" y1="279.80" x2="149.44" y2="279.80" stroke="#8fdce6" stroke-width="1"/>
<line x1="147.64" y1="270.70" x2="147.64" y2="301.10" stroke="#4a94d6" stroke-width="1"/>
<line x1="145.84" y1="270.70" x2="149.44" y2="270.70" stroke="#4a94d6" stroke-width="1"/>
<line x1="145.84" y1="301.10" x2="149.44" y2="301.10" stroke="#4a94d6" stroke-width="1"/>
<line x1="147.64" y1="259.50" x2="147.64" y2="279.80" stroke="#3a3a3a" stroke-width="1"/>
<line x1="145.84" y1="259.50" x2="149.44" y2="259.50" stroke="#3a3a3a" stroke-width="1"/>
<line x1="145.84" y1="279.80" x2="149.44" y2="279.80" stroke="#3a3a3a" stroke-width="1"/>
<line x1="172.36" y1="271.00" x2="172.36" y2="286.00" stroke="#8fdce6" stroke-width="1"/>
<line x1="170.56" y1="271.00" x2="174.16" y2="271.00" stroke="#8fdce6" stroke-width="1"/>
<line x1="170.56" y1="286.00" x2="174.16" y2="286.00" stroke="#8fdce6" stroke-width="1"/>
<line x1="172.36" y1="267.40" x2="172.36" y2="290.40" stroke="#4a94d6" stroke-width="1"/>
<line x1="170.56" y1="267.40" x2="174.16" y2="267.40" stroke="#4a94d6" stroke-width="1"/>
<line x1="170.56" y1="290.40" x2="174.16" y2="290.40" stroke="#4a94d6" stroke-width="1"/>
<line x1="172.36" y1="272.60" x2="172.36" y2="286.60" stroke="#3a3a3a" stroke-width="1"/>
<line x1="170.56" y1="272.60" x2="174.16" y2="272.60" stroke="#3a3a3a" stroke-width="1"/>
<line x1="170.56" y1="286.60" x2="174.16" y2="286.60" stroke="#3a3a3a" stroke-width="1"/>
<line x1="197.08" y1="288.00" x2="197.08" y2="295.60" stroke="#8fdce6" stroke-width="1"/>
<line x1="195.28" y1="288.00" x2="198.88" y2="288.00" stroke="#8fdce6" stroke-width="1"/>
<line x1="195.28" y1="295.60" x2="198.88" y2="295.60" stroke="#8fdce6" stroke-width="1"/>
<line x1="197.08" y1="281.50" x2="197.08" y2="286.50" stroke="#4a94d6" stroke-width="1"/>
<line x1="195.28" y1="281.50" x2="198.88" y2="281.50" stroke="#4a94d6" stroke-width="1"/>
<line x1="195.28" y1="286.50" x2="198.88" y2="286.50" stroke="#4a94d6" stroke-width="1"/>
<line x1="197.08" y1="289.60" x2="197.08" y2="297.60" stroke="#3a3a3a" stroke-width="1"/>
<line x1="195.28" y1="289.60" x2="198.88" y2="289.60" stroke="#3a3a3a" stroke-width="1"/>
<line x1="195.28" y1="297.60" x2="198.88" y2="297.60" stroke="#3a3a3a" stroke-width="1"/>
<line x1="221.80" y1="289.00" x2="221.80" y2="296.40" stroke="#8fdce6" stroke-width="1"/>
<line x1="220.00" y1="289.00" x2="223.60" y2="289.00" stroke="#8fdce6" stroke-width="1"/>
<line x1="220.00" y1="296.40" x2="223.60" y2="296.40" stroke="#8fdce6" stroke-width="1"/>
<line x1="221.80" y1="278.40" x2="221.80" y2="286.60" stroke="#4a94d6" stroke-width="1"/>
<line x1="220.00" y1="278.40" x2="223.60" y2="278.40" stroke="#4a94d6" stroke-width="1"/>
<line x1="220.00" y1="286.60" x2="223.60" y2="286.60" stroke="#4a94d6" stroke-width="1"/>
<line x1="221.80" y1="290.00" x2="221.80" y2="298.00" stroke="#3a3a3a" stroke-width="1"/>
<line x1="220.00" y1="290.00" x2="223.60" y2="290.00" stroke="#3a3a3a" stroke-width="1"/>
<line x1="220.00" y1="298.00" x2="223.60" y2="298.00" stroke="#3a3a3a" stroke-width="1"/>
<line x1="246.52" y1="265.00" x2="246.52" y2="273.40" stroke="#8fdce6" stroke-width="1"/>
<line x1="244.72" y1="265.00" x2="248.32" y2="265.00" stroke="#8fdce6" stroke-width="1"/>
<line x1="244.72" y1="273.40" x2="248.32" y2="273.40" stroke="#8fdce6" stroke-width="1"/>
<line x1="246.52" y1="264.50" x2="246.52" y2="272.00" stroke="#4a94d6" stroke-width="1"/>
<line x1="244.72" y1="264.50" x2="248.32" y2="264.50" stroke="#4a94d6" stroke-width="1"/>
<line x1="244.72" y1="272.00" x2="248.32" y2="272.00" stroke="#4a94d6" stroke-width="1"/>
<line x1="246.52" y1="272.60" x2="246.52" y2="281.00" stroke="#3a3a3a" stroke-width="1"/>
<line x1="244.72" y1="272.60" x2="248.32" y2="272.60" stroke="#3a3a3a" stroke-width="1"/>
<line x1="244.72" y1="281.00" x2="248.32" y2="281.00" stroke="#3a3a3a" stroke-width="1"/>
<line x1="271.24" y1="272.00" x2="271.24" y2="278.60" stroke="#8fdce6" stroke-width="1"/>
<line x1="269.44" y1="272.00" x2="273.04" y2="272.00" stroke="#8fdce6" stroke-width="1"/>
<line x1="269.44" y1="278.60" x2="273.04" y2="278.60" stroke="#8fdce6" stroke-width="1"/>
<line x1="271.24" y1="270.00" x2="271.24" y2="277.00" stroke="#4a94d6" stroke-width="1"/>
<line x1="269.44" y1="270.00" x2="273.04" y2="270.00" stroke="#4a94d6" stroke-width="1"/>
<line x1="269.44" y1="277.00" x2="273.04" y2="277.00" stroke="#4a94d6" stroke-width="1"/>
<line x1="271.24" y1="277.30" x2="271.24" y2="287.10" stroke="#3a3a3a" stroke-width="1"/>
<line x1="269.44" y1="277.30" x2="273.04" y2="277.30" stroke="#3a3a3a" stroke-width="1"/>
<line x1="269.44" y1="287.10" x2="273.04" y2="287.10" stroke="#3a3a3a" stroke-width="1"/>
<line x1="295.96" y1="264.00" x2="295.96" y2="270.80" stroke="#8fdce6" stroke-width="1"/>
<line x1="294.16" y1="264.00" x2="297.76" y2="264.00" stroke="#8fdce6" stroke-width="1"/>
<line x1="294.16" y1="270.80" x2="297.76" y2="270.80" stroke="#8fdce6" stroke-width="1"/>
<line x1="295.96" y1="265.50" x2="295.96" y2="273.00" stroke="#4a94d6" stroke-width="1"/>
<line x1="294.16" y1="265.50" x2="297.76" y2="265.50" stroke="#4a94d6" stroke-width="1"/>
<line x1="294.16" y1="273.00" x2="297.76" y2="273.00" stroke="#4a94d6" stroke-width="1"/>
<line x1="295.96" y1="270.60" x2="295.96" y2="280.00" stroke="#3a3a3a" stroke-width="1"/>
<line x1="294.16" y1="270.60" x2="297.76" y2="270.60" stroke="#3a3a3a" stroke-width="1"/>
<line x1="294.16" y1="280.00" x2="297.76" y2="280.00" stroke="#3a3a3a" stroke-width="1"/>
<circle cx="48.76" cy="374.70" r="2.9" fill="#38c6da"/>
<circle cx="73.48" cy="315.20" r="2.9" fill="#38c6da"/>
<circle cx="98.20" cy="294.70" r="2.9" fill="#38c6da"/>
<circle cx="122.92" cy="280.40" r="2.9" fill="#38c6da"/>
<circle cx="147.64" cy="272.00" r="2.9" fill="#38c6da"/>
<circle cx="172.36" cy="278.50" r="2.9" fill="#38c6da"/>
<circle cx="197.08" cy="291.80" r="2.9" fill="#38c6da"/>
<circle cx="221.80" cy="292.70" r="2.9" fill="#38c6da"/>
<circle cx="246.52" cy="269.20" r="2.9" fill="#38c6da"/>
<circle cx="271.24" cy="275.30" r="2.9" fill="#38c6da"/>
<circle cx="295.96" cy="267.40" r="2.9" fill="#38c6da"/>
<path d="M70.08 373.57L76.88 373.57L73.48 379.37Z" fill="#0b6fc7"/>
<path d="M94.80 358.57L101.60 358.57L98.20 364.37Z" fill="#0b6fc7"/>
<path d="M119.52 290.87L126.32 290.87L122.92 296.67Z" fill="#0b6fc7"/>
<path d="M144.24 282.97L151.04 282.97L147.64 288.77Z" fill="#0b6fc7"/>
<path d="M168.96 277.07L175.76 277.07L172.36 282.87Z" fill="#0b6fc7"/>
<path d="M193.68 282.27L200.48 282.27L197.08 288.07Z" fill="#0b6fc7"/>
<path d="M218.40 279.87L225.20 279.87L221.80 285.67Z" fill="#0b6fc7"/>
<path d="M243.12 267.37L249.92 267.37L246.52 273.17Z" fill="#0b6fc7"/>
<path d="M267.84 272.77L274.64 272.77L271.24 278.57Z" fill="#0b6fc7"/>
<path d="M292.56 267.27L299.36 267.27L295.96 273.07Z" fill="#0b6fc7"/>
<path d="M70.08 318.23L76.88 318.23L73.48 312.43Z" fill="#1e1e1e"/>
<path d="M94.80 271.43L101.60 271.43L98.20 265.63Z" fill="#1e1e1e"/>
<path d="M119.52 274.93L126.32 274.93L122.92 269.13Z" fill="#1e1e1e"/>
<path d="M144.24 273.23L151.04 273.23L147.64 267.43Z" fill="#1e1e1e"/>
<path d="M168.96 282.23L175.76 282.23L172.36 276.43Z" fill="#1e1e1e"/>
<path d="M193.68 296.53L200.48 296.53L197.08 290.73Z" fill="#1e1e1e"/>
<path d="M218.40 296.93L225.20 296.93L221.80 291.13Z" fill="#1e1e1e"/>
<path d="M243.12 278.43L249.92 278.43L246.52 272.63Z" fill="#1e1e1e"/>
<path d="M267.84 285.13L274.64 285.13L271.24 279.33Z" fill="#1e1e1e"/>
<path d="M292.56 278.23L299.36 278.23L295.96 272.43Z" fill="#1e1e1e"/>
<text x="0.5" y="244.1" font-size="19" fill="#111" font-family='"Liberation Serif", serif'>c</text>
<line x1="379.50" y1="247.70" x2="379.50" y2="376.00" stroke="#626262" stroke-width="1"/>
<line x1="376.00" y1="375.50" x2="651.50" y2="375.50" stroke="#535353" stroke-width="1.05"/>
<line x1="376.00" y1="375.50" x2="379.50" y2="375.50" stroke="#626262" stroke-width="1"/>
<text x="0" y="0" font-size="11.8" text-anchor="end" fill="#1c1c1c" font-family='"Liberation Serif", serif' transform="translate(373.50 379.20) scale(0.92 1)">0</text>
<line x1="376.00" y1="354.30" x2="379.50" y2="354.30" stroke="#626262" stroke-width="1"/>
<text x="0" y="0" font-size="11.8" text-anchor="end" fill="#1c1c1c" font-family='"Liberation Serif", serif' transform="translate(373.50 358.00) scale(0.92 1)">0.2</text>
<line x1="376.00" y1="333.10" x2="379.50" y2="333.10" stroke="#626262" stroke-width="1"/>
<text x="0" y="0" font-size="11.8" text-anchor="end" fill="#1c1c1c" font-family='"Liberation Serif", serif' transform="translate(373.50 336.80) scale(0.92 1)">0.4</text>
<line x1="376.00" y1="311.90" x2="379.50" y2="311.90" stroke="#626262" stroke-width="1"/>
<text x="0" y="0" font-size="11.8" text-anchor="end" fill="#1c1c1c" font-family='"Liberation Serif", serif' transform="translate(373.50 315.60) scale(0.92 1)">0.6</text>
<line x1="376.00" y1="290.70" x2="379.50" y2="290.70" stroke="#626262" stroke-width="1"/>
<text x="0" y="0" font-size="11.8" text-anchor="end" fill="#1c1c1c" font-family='"Liberation Serif", serif' transform="translate(373.50 294.40) scale(0.92 1)">0.8</text>
<line x1="376.00" y1="269.50" x2="379.50" y2="269.50" stroke="#626262" stroke-width="1"/>
<text x="0" y="0" font-size="11.8" text-anchor="end" fill="#1c1c1c" font-family='"Liberation Serif", serif' transform="translate(373.50 273.20) scale(0.92 1)">1</text>
<text x="0" y="0" font-size="12.0" text-anchor="middle" fill="#1c1c1c" font-family='"Liberation Serif", serif' transform="translate(357.80 309.00) rotate(-90) scale(0.9 1)">normalized PAC measure</text>
<rect x="430.96" y="426.35" width="5.90" height="5.15" fill="#a9e5ed"/>
<rect x="445.66" y="426.85" width="4.90" height="4.65" fill="white" stroke="#3a3a3a" stroke-width="1"/>
<rect x="455.69" y="421.20" width="5.90" height="10.30" fill="#a9e5ed"/>
<rect x="480.42" y="400.60" width="5.90" height="30.90" fill="#a9e5ed"/>
<rect x="480.42" y="395.45" width="5.90" height="5.15" fill="#d3d3d3"/>
<rect x="495.12" y="426.85" width="4.90" height="4.65" fill="white" stroke="#3a3a3a" stroke-width="1"/>
<rect x="505.15" y="390.30" width="5.90" height="41.20" fill="#a9e5ed"/>
<rect x="505.15" y="385.15" width="5.90" height="5.15" fill="#d3d3d3"/>
<rect x="512.65" y="426.85" width="5.00" height="4.65" fill="white" stroke="#0b6fc7" stroke-width="1"/>
<rect x="519.85" y="406.25" width="4.90" height="25.25" fill="white" stroke="#3a3a3a" stroke-width="1"/>
<rect x="529.88" y="380.00" width="5.90" height="51.50" fill="#a9e5ed"/>
<rect x="537.38" y="421.70" width="5.00" height="9.80" fill="white" stroke="#0b6fc7" stroke-width="1"/>
<rect x="544.58" y="395.95" width="4.90" height="35.55" fill="white" stroke="#3a3a3a" stroke-width="1"/>
<rect x="554.61" y="380.00" width="5.90" height="51.50" fill="#a9e5ed"/>
<rect x="562.11" y="406.25" width="5.00" height="25.25" fill="white" stroke="#0b6fc7" stroke-width="1"/>
<rect x="569.31" y="395.95" width="4.90" height="35.55" fill="white" stroke="#3a3a3a" stroke-width="1"/>
<rect x="579.34" y="385.15" width="5.90" height="46.35" fill="#a9e5ed"/>
<rect x="579.34" y="380.00" width="5.90" height="5.15" fill="#d3d3d3"/>
<rect x="586.84" y="416.55" width="5.00" height="14.95" fill="white" stroke="#0b6fc7" stroke-width="1"/>
<rect x="594.04" y="380.50" width="4.90" height="51.00" fill="white" stroke="#3a3a3a" stroke-width="1"/>
<rect x="604.07" y="385.15" width="5.90" height="46.35" fill="#a9e5ed"/>
<rect x="604.07" y="380.00" width="5.90" height="5.15" fill="#d3d3d3"/>
<rect x="611.57" y="385.65" width="5.00" height="45.85" fill="white" stroke="#0b6fc7" stroke-width="1"/>
<rect x="618.77" y="380.50" width="4.90" height="51.00" fill="white" stroke="#3a3a3a" stroke-width="1"/>
<rect x="628.80" y="385.15" width="5.90" height="46.35" fill="#a9e5ed"/>
<rect x="628.80" y="380.00" width="5.90" height="5.15" fill="#d3d3d3"/>
<rect x="636.30" y="385.65" width="5.00" height="45.85" fill="white" stroke="#0b6fc7" stroke-width="1"/>
<rect x="643.50" y="380.50" width="4.90" height="51.00" fill="white" stroke="#3a3a3a" stroke-width="1"/>
<line x1="379.50" y1="431.50" x2="652.00" y2="431.50" stroke="#535353" stroke-width="1.0"/>
<line x1="651.50" y1="380.00" x2="651.50" y2="431.50" stroke="#535353" stroke-width="1.0"/>
<line x1="651.50" y1="431.50" x2="654.50" y2="431.50" stroke="#626262" stroke-width="1"/>
<text x="0" y="0" font-size="11.8" text-anchor="start" fill="#1c1c1c" font-family='"Liberation Serif", serif' transform="translate(656.40 436.70) scale(0.92 1)">0</text>
<line x1="651.50" y1="405.75" x2="654.50" y2="405.75" stroke="#626262" stroke-width="1"/>
<text x="0" y="0" font-size="11.8" text-anchor="start" fill="#1c1c1c" font-family='"Liberation Serif", serif' transform="translate(656.40 410.95) scale(0.92 1)">50</text>
<line x1="651.50" y1="380.00" x2="654.50" y2="380.00" stroke="#626262" stroke-width="1"/>
<text x="0" y="0" font-size="11.8" text-anchor="start" fill="#1c1c1c" font-family='"Liberation Serif", serif' transform="translate(656.40 385.20) scale(0.92 1)">100</text>
<text x="677.00" y="404.50" font-size="11.6" text-anchor="middle" fill="#1c1c1c" font-family='"Liberation Serif", serif' transform="rotate(90 677.00 404.50)">detections [%]</text>
<line x1="391.80" y1="431.50" x2="391.80" y2="434.50" stroke="#626262" stroke-width="1"/>
<text x="0" y="0" font-size="11.8" text-anchor="middle" fill="#1c1c1c" font-family='"Liberation Serif", serif' transform="translate(392.00 444.80) scale(0.92 1)">0</text>
<line x1="416.53" y1="431.50" x2="416.53" y2="434.50" stroke="#626262" stroke-width="1"/>
<text x="0" y="0" font-size="11.8" text-anchor="middle" fill="#1c1c1c" font-family='"Liberation Serif", serif' transform="translate(415.53 444.80) scale(0.92 1)">0.1</text>
<line x1="441.26" y1="431.50" x2="441.26" y2="434.50" stroke="#626262" stroke-width="1"/>
<text x="0" y="0" font-size="11.8" text-anchor="middle" fill="#1c1c1c" font-family='"Liberation Serif", serif' transform="translate(441.26 444.80) scale(0.92 1)">0.2</text>
<line x1="465.99" y1="431.50" x2="465.99" y2="434.50" stroke="#626262" stroke-width="1"/>
<text x="0" y="0" font-size="11.8" text-anchor="middle" fill="#1c1c1c" font-family='"Liberation Serif", serif' transform="translate(466.39 444.80) scale(0.92 1)">0.3</text>
<line x1="490.72" y1="431.50" x2="490.72" y2="434.50" stroke="#626262" stroke-width="1"/>
<text x="0" y="0" font-size="11.8" text-anchor="middle" fill="#1c1c1c" font-family='"Liberation Serif", serif' transform="translate(489.02 444.80) scale(0.92 1)">0.4</text>
<line x1="515.45" y1="431.50" x2="515.45" y2="434.50" stroke="#626262" stroke-width="1"/>
<text x="0" y="0" font-size="11.8" text-anchor="middle" fill="#1c1c1c" font-family='"Liberation Serif", serif' transform="translate(514.45 444.80) scale(0.92 1)">0.5</text>
<line x1="540.18" y1="431.50" x2="540.18" y2="434.50" stroke="#626262" stroke-width="1"/>
<text x="0" y="0" font-size="11.8" text-anchor="middle" fill="#1c1c1c" font-family='"Liberation Serif", serif' transform="translate(539.78 444.80) scale(0.92 1)">0.6</text>
<line x1="564.91" y1="431.50" x2="564.91" y2="434.50" stroke="#626262" stroke-width="1"/>
<text x="0" y="0" font-size="11.8" text-anchor="middle" fill="#1c1c1c" font-family='"Liberation Serif", serif' transform="translate(565.01 444.80) scale(0.92 1)">0.7</text>
<line x1="589.64" y1="431.50" x2="589.64" y2="434.50" stroke="#626262" stroke-width="1"/>
<text x="0" y="0" font-size="11.8" text-anchor="middle" fill="#1c1c1c" font-family='"Liberation Serif", serif' transform="translate(590.24 444.80) scale(0.92 1)">0.8</text>
<line x1="614.37" y1="431.50" x2="614.37" y2="434.50" stroke="#626262" stroke-width="1"/>
<text x="0" y="0" font-size="11.8" text-anchor="middle" fill="#1c1c1c" font-family='"Liberation Serif", serif' transform="translate(615.07 444.80) scale(0.92 1)">0.9</text>
<line x1="639.10" y1="431.50" x2="639.10" y2="434.50" stroke="#626262" stroke-width="1"/>
<text x="0" y="0" font-size="11.8" text-anchor="middle" fill="#1c1c1c" font-family='"Liberation Serif", serif' transform="translate(639.40 444.80) scale(0.92 1)">1</text>
<text x="521.60" y="456.00" font-size="11.7" text-anchor="middle" fill="#1c1c1c" font-family='"Liberation Serif", serif'>Filling</text>
<line x1="441.26" y1="368.80" x2="441.26" y2="375.30" stroke="#3a3a3a" stroke-width="1"/>
<line x1="439.46" y1="368.80" x2="443.06" y2="368.80" stroke="#3a3a3a" stroke-width="1"/>
<line x1="439.46" y1="375.30" x2="443.06" y2="375.30" stroke="#3a3a3a" stroke-width="1"/>
<line x1="465.99" y1="365.50" x2="465.99" y2="373.00" stroke="#8fdce6" stroke-width="1"/>
<line x1="464.19" y1="365.50" x2="467.79" y2="365.50" stroke="#8fdce6" stroke-width="1"/>
<line x1="464.19" y1="373.00" x2="467.79" y2="373.00" stroke="#8fdce6" stroke-width="1"/>
<line x1="490.72" y1="352.30" x2="490.72" y2="360.90" stroke="#8fdce6" stroke-width="1"/>
<line x1="488.92" y1="352.30" x2="492.52" y2="352.30" stroke="#8fdce6" stroke-width="1"/>
<line x1="488.92" y1="360.90" x2="492.52" y2="360.90" stroke="#8fdce6" stroke-width="1"/>
<line x1="490.72" y1="368.10" x2="490.72" y2="375.50" stroke="#3a3a3a" stroke-width="1"/>
<line x1="488.92" y1="368.10" x2="492.52" y2="368.10" stroke="#3a3a3a" stroke-width="1"/>
<line x1="488.92" y1="375.50" x2="492.52" y2="375.50" stroke="#3a3a3a" stroke-width="1"/>
<line x1="515.45" y1="335.40" x2="515.45" y2="347.00" stroke="#8fdce6" stroke-width="1"/>
<line x1="513.65" y1="335.40" x2="517.25" y2="335.40" stroke="#8fdce6" stroke-width="1"/>
<line x1="513.65" y1="347.00" x2="517.25" y2="347.00" stroke="#8fdce6" stroke-width="1"/>
<line x1="515.45" y1="355.20" x2="515.45" y2="375.40" stroke="#4a94d6" stroke-width="1"/>
<line x1="513.65" y1="355.20" x2="517.25" y2="355.20" stroke="#4a94d6" stroke-width="1"/>
<line x1="513.65" y1="375.40" x2="517.25" y2="375.40" stroke="#4a94d6" stroke-width="1"/>
<line x1="515.45" y1="348.40" x2="515.45" y2="361.40" stroke="#3a3a3a" stroke-width="1"/>
<line x1="513.65" y1="348.40" x2="517.25" y2="348.40" stroke="#3a3a3a" stroke-width="1"/>
<line x1="513.65" y1="361.40" x2="517.25" y2="361.40" stroke="#3a3a3a" stroke-width="1"/>
<line x1="540.18" y1="320.90" x2="540.18" y2="333.90" stroke="#8fdce6" stroke-width="1"/>
<line x1="538.38" y1="320.90" x2="541.98" y2="320.90" stroke="#8fdce6" stroke-width="1"/>
<line x1="538.38" y1="333.90" x2="541.98" y2="333.90" stroke="#8fdce6" stroke-width="1"/>
<line x1="540.18" y1="345.70" x2="540.18" y2="369.30" stroke="#4a94d6" stroke-width="1"/>
<line x1="538.38" y1="345.70" x2="541.98" y2="345.70" stroke="#4a94d6" stroke-width="1"/>
<line x1="538.38" y1="369.30" x2="541.98" y2="369.30" stroke="#4a94d6" stroke-width="1"/>
<line x1="540.18" y1="334.00" x2="540.18" y2="349.70" stroke="#3a3a3a" stroke-width="1"/>
<line x1="538.38" y1="334.00" x2="541.98" y2="334.00" stroke="#3a3a3a" stroke-width="1"/>
<line x1="538.38" y1="349.70" x2="541.98" y2="349.70" stroke="#3a3a3a" stroke-width="1"/>
<line x1="564.91" y1="312.00" x2="564.91" y2="325.00" stroke="#8fdce6" stroke-width="1"/>
<line x1="563.11" y1="312.00" x2="566.71" y2="312.00" stroke="#8fdce6" stroke-width="1"/>
<line x1="563.11" y1="325.00" x2="566.71" y2="325.00" stroke="#8fdce6" stroke-width="1"/>
<line x1="564.91" y1="312.00" x2="564.91" y2="344.30" stroke="#4a94d6" stroke-width="1"/>
<line x1="563.11" y1="312.00" x2="566.71" y2="312.00" stroke="#4a94d6" stroke-width="1"/>
<line x1="563.11" y1="344.30" x2="566.71" y2="344.30" stroke="#4a94d6" stroke-width="1"/>
<line x1="564.91" y1="318.30" x2="564.91" y2="339.00" stroke="#3a3a3a" stroke-width="1"/>
<line x1="563.11" y1="318.30" x2="566.71" y2="318.30" stroke="#3a3a3a" stroke-width="1"/>
<line x1="563.11" y1="339.00" x2="566.71" y2="339.00" stroke="#3a3a3a" stroke-width="1"/>
<line x1="589.64" y1="309.10" x2="589.64" y2="322.30" stroke="#8fdce6" stroke-width="1"/>
<line x1="587.84" y1="309.10" x2="591.44" y2="309.10" stroke="#8fdce6" stroke-width="1"/>
<line x1="587.84" y1="322.30" x2="591.44" y2="322.30" stroke="#8fdce6" stroke-width="1"/>
<line x1="589.64" y1="329.60" x2="589.64" y2="360.50" stroke="#4a94d6" stroke-width="1"/>
<line x1="587.84" y1="329.60" x2="591.44" y2="329.60" stroke="#4a94d6" stroke-width="1"/>
<line x1="587.84" y1="360.50" x2="591.44" y2="360.50" stroke="#4a94d6" stroke-width="1"/>
<line x1="589.64" y1="308.70" x2="589.64" y2="319.10" stroke="#3a3a3a" stroke-width="1"/>
<line x1="587.84" y1="308.70" x2="591.44" y2="308.70" stroke="#3a3a3a" stroke-width="1"/>
<line x1="587.84" y1="319.10" x2="591.44" y2="319.10" stroke="#3a3a3a" stroke-width="1"/>
<line x1="614.37" y1="288.00" x2="614.37" y2="297.00" stroke="#8fdce6" stroke-width="1"/>
<line x1="612.57" y1="288.00" x2="616.17" y2="288.00" stroke="#8fdce6" stroke-width="1"/>
<line x1="612.57" y1="297.00" x2="616.17" y2="297.00" stroke="#8fdce6" stroke-width="1"/>
<line x1="614.37" y1="278.30" x2="614.37" y2="299.50" stroke="#4a94d6" stroke-width="1"/>
<line x1="612.57" y1="278.30" x2="616.17" y2="278.30" stroke="#4a94d6" stroke-width="1"/>
<line x1="612.57" y1="299.50" x2="616.17" y2="299.50" stroke="#4a94d6" stroke-width="1"/>
<line x1="614.37" y1="286.00" x2="614.37" y2="301.80" stroke="#3a3a3a" stroke-width="1"/>
<line x1="612.57" y1="286.00" x2="616.17" y2="286.00" stroke="#3a3a3a" stroke-width="1"/>
<line x1="612.57" y1="301.80" x2="616.17" y2="301.80" stroke="#3a3a3a" stroke-width="1"/>
<line x1="639.10" y1="262.20" x2="639.10" y2="276.20" stroke="#8fdce6" stroke-width="1"/>
<line x1="637.30" y1="262.20" x2="640.90" y2="262.20" stroke="#8fdce6" stroke-width="1"/>
<line x1="637.30" y1="276.20" x2="640.90" y2="276.20" stroke="#8fdce6" stroke-width="1"/>
<line x1="639.10" y1="256.30" x2="639.10" y2="282.40" stroke="#4a94d6" stroke-width="1"/>
<line x1="637.30" y1="256.30" x2="640.90" y2="256.30" stroke="#4a94d6" stroke-width="1"/>
<line x1="637.30" y1="282.40" x2="640.90" y2="282.40" stroke="#4a94d6" stroke-width="1"/>
<line x1="639.10" y1="261.30" x2="639.10" y2="277.20" stroke="#3a3a3a" stroke-width="1"/>
<line x1="637.30" y1="261.30" x2="640.90" y2="261.30" stroke="#3a3a3a" stroke-width="1"/>
<line x1="637.30" y1="277.20" x2="640.90" y2="277.20" stroke="#3a3a3a" stroke-width="1"/>
<circle cx="391.80" cy="375.50" r="2.9" fill="#38c6da"/>
<circle cx="416.53" cy="375.50" r="2.9" fill="#38c6da"/>
<circle cx="441.26" cy="372.70" r="2.9" fill="#38c6da"/>
<circle cx="465.99" cy="369.20" r="2.9" fill="#38c6da"/>
<circle cx="490.72" cy="356.30" r="2.9" fill="#38c6da"/>
<circle cx="515.45" cy="340.90" r="2.9" fill="#38c6da"/>
<circle cx="540.18" cy="327.40" r="2.9" fill="#38c6da"/>
<circle cx="564.91" cy="318.00" r="2.9" fill="#38c6da"/>
<circle cx="589.64" cy="315.70" r="2.9" fill="#38c6da"/>
<circle cx="614.37" cy="292.50" r="2.9" fill="#38c6da"/>
<circle cx="639.10" cy="268.80" r="2.9" fill="#38c6da"/>
<path d="M388.40 373.57L395.20 373.57L391.80 379.37Z" fill="#0b6fc7"/>
<path d="M413.13 373.57L419.93 373.57L416.53 379.37Z" fill="#0b6fc7"/>
<path d="M437.86 373.57L444.66 373.57L441.26 379.37Z" fill="#0b6fc7"/>
<path d="M462.59 373.57L469.39 373.57L465.99 379.37Z" fill="#0b6fc7"/>
<path d="M487.32 373.57L494.12 373.57L490.72 379.37Z" fill="#0b6fc7"/>
<path d="M512.05 362.37L518.85 362.37L515.45 368.17Z" fill="#0b6fc7"/>
<path d="M536.78 354.57L543.58 354.57L540.18 360.37Z" fill="#0b6fc7"/>
<path d="M561.51 326.37L568.31 326.37L564.91 332.17Z" fill="#0b6fc7"/>
<path d="M586.24 342.67L593.04 342.67L589.64 348.47Z" fill="#0b6fc7"/>
<path d="M610.97 286.47L617.77 286.47L614.37 292.27Z" fill="#0b6fc7"/>
<path d="M635.70 266.87L642.50 266.87L639.10 272.67Z" fill="#0b6fc7"/>
<path d="M388.40 377.43L395.20 377.43L391.80 371.63Z" fill="#1e1e1e"/>
<path d="M413.13 377.43L419.93 377.43L416.53 371.63Z" fill="#1e1e1e"/>
<path d="M437.86 374.93L444.66 374.93L441.26 369.13Z" fill="#1e1e1e"/>
<path d="M462.59 377.63L469.39 377.63L465.99 371.83Z" fill="#1e1e1e"/>
<path d="M487.32 374.93L494.12 374.93L490.72 369.13Z" fill="#1e1e1e"/>
<path d="M512.05 357.83L518.85 357.83L515.45 352.03Z" fill="#1e1e1e"/>
<path d="M536.78 344.43L543.58 344.43L540.18 338.63Z" fill="#1e1e1e"/>
<path d="M561.51 330.53L568.31 330.53L564.91 324.73Z" fill="#1e1e1e"/>
<path d="M586.24 316.83L593.04 316.83L589.64 311.03Z" fill="#1e1e1e"/>
<path d="M610.97 295.53L617.77 295.53L614.37 289.73Z" fill="#1e1e1e"/>
<path d="M635.70 270.73L642.50 270.73L639.10 264.93Z" fill="#1e1e1e"/>
<text x="343.6" y="244.1" font-size="19" fill="#111" font-family='"Liberation Serif", serif'>d</text>
<line x1="515.50" y1="41.80" x2="515.50" y2="50.90" stroke="#8fdce6" stroke-width="1"/>
<line x1="513.80" y1="41.80" x2="517.20" y2="41.80" stroke="#8fdce6" stroke-width="1"/>
<line x1="513.80" y1="50.90" x2="517.20" y2="50.90" stroke="#8fdce6" stroke-width="1"/>
<circle cx="515.50" cy="46.30" r="2.4" fill="#38c6da"/>
<text x="526.00" y="50.60" font-size="9.9" text-anchor="start" fill="#1c1c1c" font-family='"Liberation Serif", serif'>eMI</text>
<line x1="515.50" y1="53.70" x2="515.50" y2="62.00" stroke="#4a94d6" stroke-width="1"/>
<line x1="513.80" y1="53.70" x2="517.20" y2="53.70" stroke="#4a94d6" stroke-width="1"/>
<line x1="513.80" y1="62.00" x2="517.20" y2="62.00" stroke="#4a94d6" stroke-width="1"/>
<path d="M512.90 55.90L518.10 55.90L515.50 60.30Z" fill="#0b6fc7"/>
<text x="526.00" y="62.00" font-size="9.9" text-anchor="start" fill="#1c1c1c" font-family='"Liberation Serif", serif'>dPAC</text>
<line x1="515.50" y1="65.70" x2="515.50" y2="73.80" stroke="#3a3a3a" stroke-width="1"/>
<line x1="513.80" y1="65.70" x2="517.20" y2="65.70" stroke="#3a3a3a" stroke-width="1"/>
<line x1="513.80" y1="73.80" x2="517.20" y2="73.80" stroke="#3a3a3a" stroke-width="1"/>
<path d="M512.90 72.10L518.10 72.10L515.50 67.70Z" fill="#1e1e1e"/>
<text x="526.00" y="73.70" font-size="9.9" text-anchor="start" fill="#1c1c1c" font-family='"Liberation Serif", serif'>MI</text>
<rect x="568.20" y="30.10" width="18.80" height="9.70" fill="#a9e5ed"/>
<text x="588.20" y="38.50" font-size="9.9" text-anchor="start" fill="#1c1c1c" font-family='"Liberation Serif", serif'>eMI Reliable</text>
<rect x="568.20" y="41.80" width="18.80" height="9.70" fill="#d3d3d3"/>
<text x="588.20" y="50.20" font-size="9.9" text-anchor="start" fill="#1c1c1c" font-family='"Liberation Serif", serif'>eMI Ambiguous</text>
<rect x="568.70" y="54.00" width="17.80" height="8.70" fill="white" stroke="#0b6fc7" stroke-width="1"/>
<text x="588.20" y="61.90" font-size="9.9" text-anchor="start" fill="#1c1c1c" font-family='"Liberation Serif", serif'>dPAC</text>
<rect x="568.70" y="65.70" width="17.80" height="8.70" fill="white" stroke="#3a3a3a" stroke-width="1"/>
<text x="588.20" y="73.60" font-size="9.9" text-anchor="start" fill="#1c1c1c" font-family='"Liberation Serif", serif'>MI</text>
</svg>
</body></html>
